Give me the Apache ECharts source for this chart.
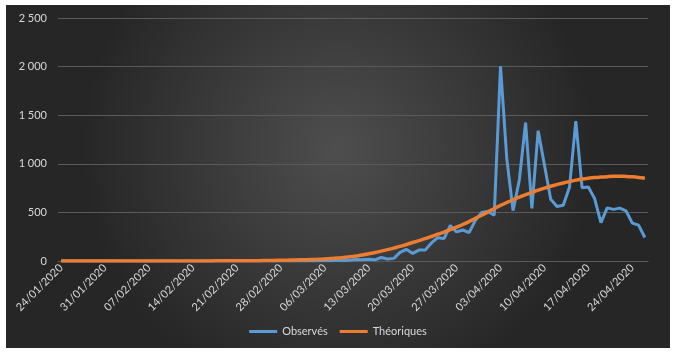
<!DOCTYPE html>
<html>
<head>
<meta charset="utf-8">
<script src="https://cdn.jsdelivr.net/npm/echarts@6/dist/echarts.min.js"></script>
<style>
  html, body { margin: 0; padding: 0; background: #ffffff; }
  #chart { position: absolute; left: 6px; top: 5px; width: 664px; height: 343px; }
</style>
</head>
<body>
<div id="chart"></div>
<script>
// dates: daily from 24/01/2020 to 26/04/2020
const startDate = new Date(2020, 0, 24);
const dayCount = 94;
const dates = [];
for (let i = 0; i < dayCount; i++) {
  const d = new Date(startDate.getFullYear(), startDate.getMonth(), startDate.getDate() + i);
  const dd = String(d.getDate()).padStart(2, '0');
  const mm = String(d.getMonth() + 1).padStart(2, '0');
  dates.push(dd + '/' + mm + '/' + d.getFullYear());
}

const seriesNames = ['Observés', 'Théoriques'];

// observed daily values
const observes = [
  0, 0, 0, 0, 0, 0, 0, 0, 0, 0,
  0, 0, 0, 0, 0, 0, 0, 0, 0, 0,
  0, 0, 1, 0, 0, 0, 0, 0, 0, 0,
  0, 0, 0, 1, 0, 0, 0, 0, 1, 1,
  0, 2, 3, 2, 8, 6, 8, 15, 13, 18,
  12, 36, 21, 27, 89, 120, 78, 112, 112, 186,
  240, 231, 365, 299, 319, 292, 418, 499, 509, 471,
  2004, 1053, 518, 833, 1425, 541, 1341, 987, 635, 561,
  574, 762, 1438, 753, 761, 642, 395, 547, 531, 544,
  516, 389, 369, 242
];

// theoretical curve
const theoriques = [
  0, 0, 0, 0, 0, 0, 0, 0, 0, 0,
  0, 0, 0, 0, 0, 0, 0, 0, 0, 0,
  1, 1, 1, 1, 1, 2, 2, 2, 2, 2,
  3, 3, 4, 5, 6, 7, 8, 10, 12, 13,
  15, 18, 21, 25, 30, 35, 43, 52, 62, 75,
  88, 102, 117, 133, 150, 170, 190, 210, 230, 252,
  275, 298, 322, 348, 376, 406, 438, 471, 505, 540,
  572, 602, 630, 657, 683, 707, 729, 750, 769, 786,
  803, 818, 832, 843, 852, 859, 864, 868, 871, 872,
  870, 866, 860, 852
];

const yTicks = [0, 500, 1000, 1500, 2000, 2500];

const fontFamily = 'Lato, "Open Sans", sans-serif';
const textColor = '#d9d9d9';
const gridColor = '#5a5a5a';

function fmt(v) {
  return String(v).replace(/\B(?=(\d{3})+(?!\d))/g, ' ');
}

const myChart = echarts.init(document.getElementById('chart'));
const option = {
  backgroundColor: {
    type: 'radial', x: 0.5, y: 0.42, r: 0.75,
    colorStops: [
      { offset: 0, color: '#4e4e4e' },
      { offset: 1, color: '#262626' }
    ]
  },
  animation: false,
  grid: { left: 52, top: 13, width: 590, height: 243 },
  legend: {
    data: seriesNames,
    bottom: 6,
    left: 'center',
    icon: 'rect',
    itemWidth: 28,
    itemHeight: 3,
    itemGap: 12,
    textStyle: { color: textColor, fontFamily: fontFamily, fontSize: 11 }
  },
  xAxis: {
    type: 'category',
    data: dates,
    boundaryGap: true,
    axisLine: { show: true, lineStyle: { color: gridColor, width: 1 } },
    axisTick: { show: false },
    axisLabel: {
      interval: 6,
      rotate: 45,
      margin: 5,
      color: textColor,
      fontFamily: fontFamily,
      fontSize: 11
    },
    splitLine: { show: false }
  },
  yAxis: {
    type: 'value',
    min: yTicks[0],
    max: yTicks[yTicks.length - 1],
    interval: 500,
    axisLine: { show: false },
    axisTick: { show: false },
    axisLabel: {
      margin: 11,
      color: textColor,
      fontFamily: fontFamily,
      fontSize: 11,
      formatter: fmt
    },
    splitLine: { lineStyle: { color: gridColor, width: 1 } }
  },
  series: [
    {
      name: seriesNames[0],
      type: 'line',
      data: observes,
      symbol: 'none',
      lineStyle: { color: '#5b9bd5', width: 3 },
      itemStyle: { color: '#5b9bd5' }
    },
    {
      name: seriesNames[1],
      type: 'line',
      data: theoriques,
      symbol: 'none',
      smooth: true,
      lineStyle: { color: '#ed7d31', width: 3.5 },
      itemStyle: { color: '#ed7d31' }
    }
  ]
};
myChart.setOption(option);
</script>
</body>
</html>
